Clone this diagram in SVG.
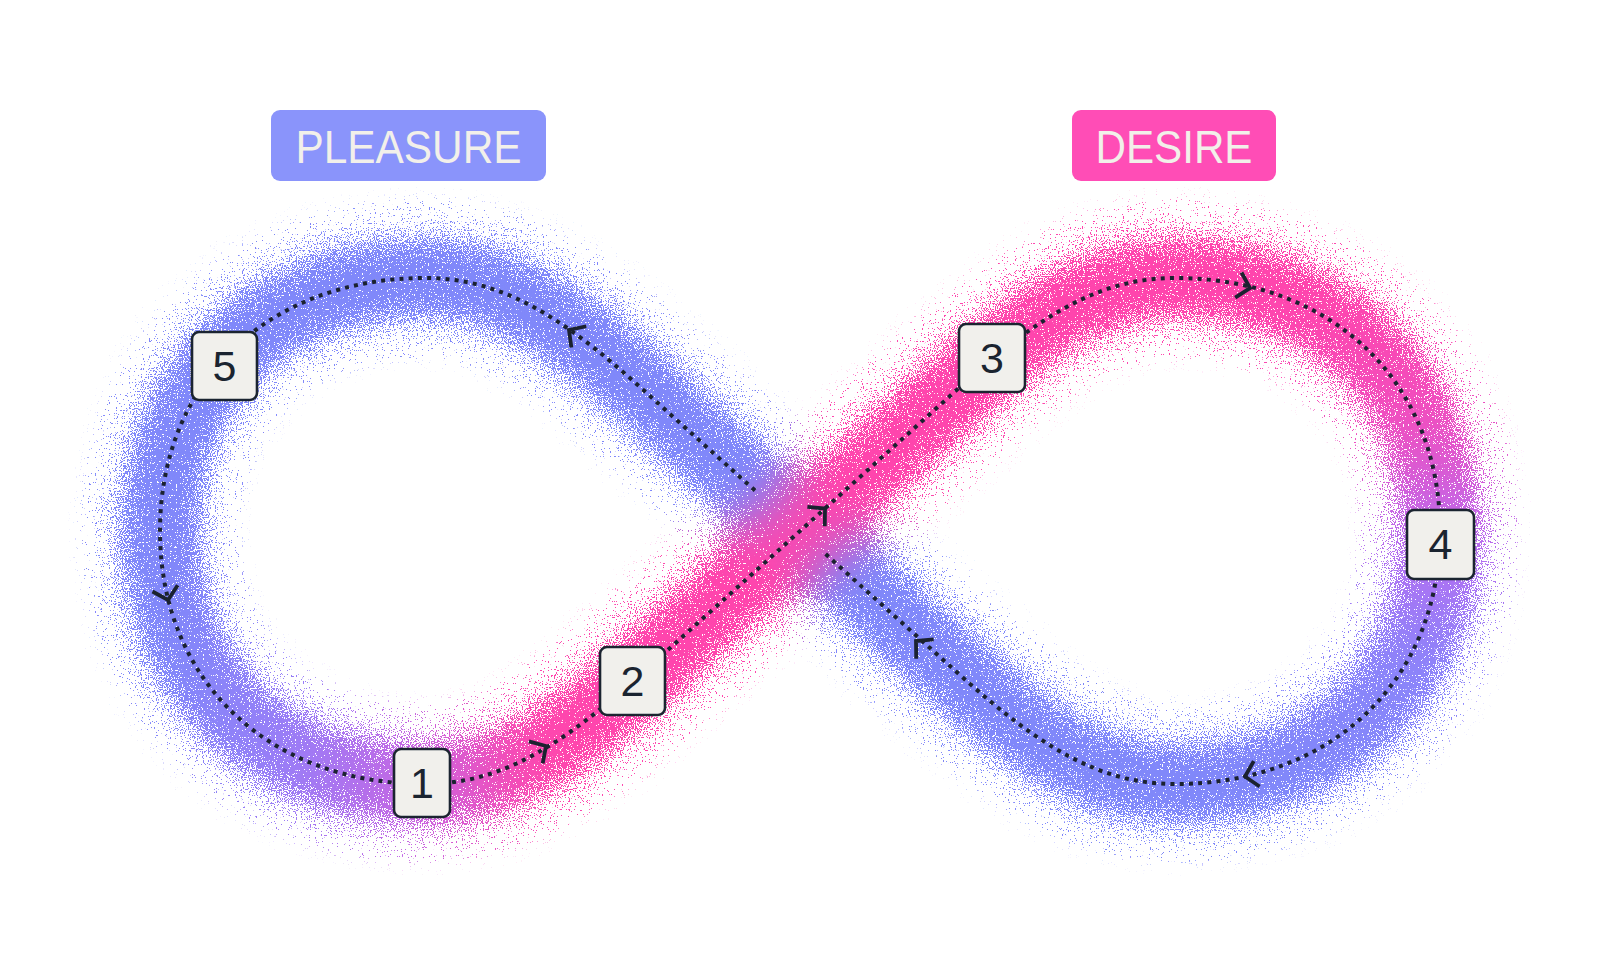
<svg xmlns="http://www.w3.org/2000/svg" width="1600" height="955" viewBox="0 0 1600 955">
<defs>
<style>
.lbl{font-family:"Liberation Sans",Arial,sans-serif;font-size:46px;fill:#f2f0ea;text-anchor:middle}
.box rect{fill:#f1f0ec;stroke:#1b2430;stroke-width:2.6}
.box text{font-family:"Liberation Sans",Arial,sans-serif;font-size:43px;fill:#1b2430;text-anchor:middle}
.band{fill:none;stroke-width:80;stroke-linecap:round}
.dots{fill:none;stroke:#1b2230;stroke-width:4;stroke-dasharray:4 5.2}
.chev{fill:none;stroke:#1b2230;stroke-width:3.8;stroke-linejoin:miter}
</style>
<linearGradient id="g1" gradientUnits="userSpaceOnUse" x1="170" y1="0" x2="600" y2="0">
<stop offset="0" stop-color="#8088fa"/>
<stop offset="0.3" stop-color="#9d7cf6"/>
<stop offset="0.58" stop-color="#c865e2"/>
<stop offset="0.85" stop-color="#ff47ad"/>
<stop offset="1" stop-color="#ff45ad"/>
</linearGradient>
<linearGradient id="g2" gradientUnits="userSpaceOnUse" x1="0" y1="300" x2="0" y2="780">
<stop offset="0" stop-color="#ff45ad"/>
<stop offset="0.25" stop-color="#f04fc0"/>
<stop offset="0.5" stop-color="#b96cf0"/>
<stop offset="0.75" stop-color="#8c84fa"/>
<stop offset="1" stop-color="#8088fa"/>
</linearGradient>
<filter id="grain" filterUnits="userSpaceOnUse" x="0" y="0" width="1600" height="955" color-interpolation-filters="sRGB">
<feGaussianBlur in="SourceAlpha" stdDeviation="22" result="ba"/>
<feTurbulence type="fractalNoise" baseFrequency="0.85" numOctaves="2" seed="3" result="n"/>
<feColorMatrix in="n" type="matrix" values="0 0 0 0 0  0 0 0 0 0  0 0 0 0 0  2.2 0 0 0 -0.6" result="na"/>
<feComposite in="ba" in2="na" operator="arithmetic" k1="0" k2="1" k3="-1" k4="0" result="d"/>
<feComponentTransfer in="d" result="m"><feFuncA type="linear" slope="25" intercept="0"/></feComponentTransfer>
<feGaussianBlur in="SourceGraphic" stdDeviation="26" result="bc"/>
<feColorMatrix in="bc" type="matrix" values="1 0 0 0 0  0 1 0 0 0  0 0 1 0 0  0 0 0 0 1" result="c"/>
<feComposite in="c" in2="m" operator="in"/>
</filter>
<path id="chev" d="M-12,-13 L0,0 L-12,13"/>
</defs>
<rect width="1600" height="955" fill="#ffffff"/>

<g id="band" filter="url(#grain)">
<path class="band" stroke="#8088fa" d="M800,531 L640,387 C560,315 500,278 425,278 C270,278 160,380 160,531"/>
<path class="band" stroke="#8088fa" d="M1175,784 C1100,784 1040,747 960,675 L800,531"/>
<path class="band" stroke="url(#g1)" d="M160,531 C160,682 270,784 425,784 C500,784 560,747 640,675"/>
<path class="band" stroke="url(#g2)" d="M1175,278 C1330,278 1440,380 1440,531 C1440,682 1330,784 1175,784"/>
<path class="band" stroke="#ff45ad" d="M640,675 L960,387 C1040,315 1100,278 1175,278"/>
</g>

<g id="connectors">
<path class="dots" d="M755,490.5 L640,387 C560,315 500,278 425,278 C270,278 160,380 160,531 C160,682 270,784 425,784 C500,784 560,747 640,675 L960,387 C1040,315 1100,278 1175,278 C1330,278 1440,380 1440,531 C1440,682 1330,784 1175,784 C1100,784 1040,747 960,675 L824,552.6"/>
<use href="#chev" class="chev" transform="translate(546,746) rotate(-32)"/>
<use href="#chev" class="chev" transform="translate(825,508.5) rotate(-42)"/>
<use href="#chev" class="chev" transform="translate(1250,288) rotate(14)"/>
<use href="#chev" class="chev" transform="translate(1245,776.5) rotate(167)"/>
<use href="#chev" class="chev" transform="translate(916,641) rotate(-138)"/>
<use href="#chev" class="chev" transform="translate(569,330) rotate(-145)"/>
<use href="#chev" class="chev" transform="translate(168,600) rotate(76)"/>
</g>

<g id="pleasure">
<rect x="271" y="110" width="275" height="71" rx="9" fill="#8a94fb"/>
<text class="lbl" x="408.5" y="163" textLength="226" lengthAdjust="spacingAndGlyphs">PLEASURE</text>
</g>
<g id="desire">
<rect x="1072" y="110" width="204" height="71" rx="9" fill="#ff4db6"/>
<text class="lbl" x="1174" y="163" textLength="157" lengthAdjust="spacingAndGlyphs">DESIRE</text>
</g>

<g id="n1" class="box"><rect x="394" y="749" width="56" height="68" rx="7"/><text x="422" y="798">1</text></g>
<g id="n2" class="box"><rect x="600" y="647" width="65" height="68" rx="7"/><text x="632.5" y="696">2</text></g>
<g id="n3" class="box"><rect x="959" y="324" width="66" height="68" rx="7"/><text x="992" y="373">3</text></g>
<g id="n4" class="box"><rect x="1407" y="510" width="67" height="69" rx="7"/><text x="1440.5" y="559">4</text></g>
<g id="n5" class="box"><rect x="192" y="332" width="65" height="68" rx="7"/><text x="224.5" y="381">5</text></g>
</svg>
